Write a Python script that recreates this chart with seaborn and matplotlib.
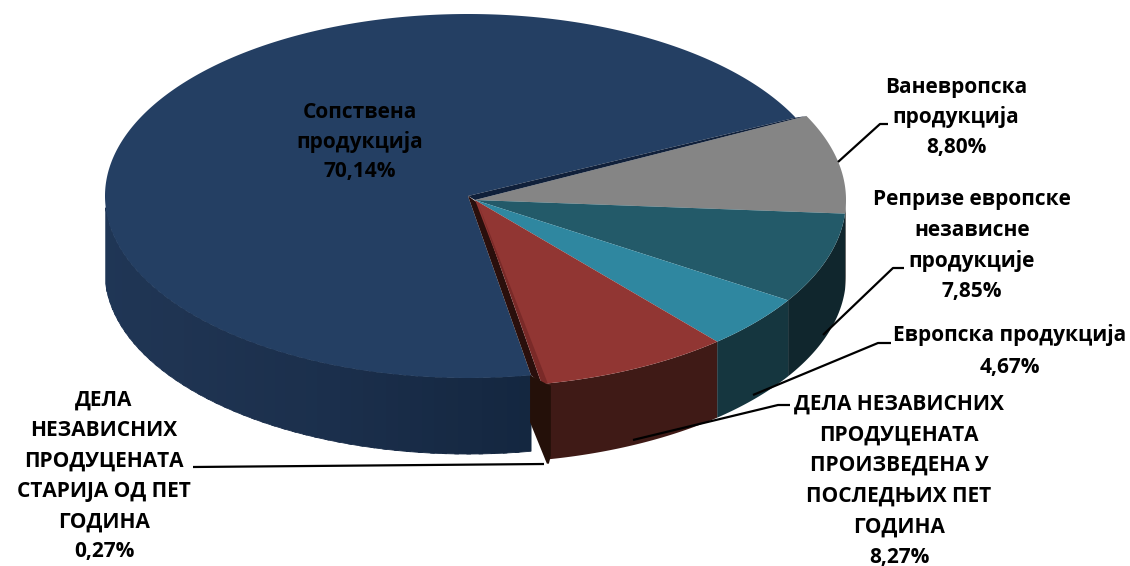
import numpy as np
import matplotlib
matplotlib.use("Agg")
import matplotlib.pyplot as plt
import seaborn as sns

# удели у процентима, редом у смеру казаљке почев од сиве кришке
slices = ["Ваневропска", "Репризе", "Европска", "Дела нова", "Дела стара", "Сопствена"]
shares = [8.80, 7.85, 4.67, 8.27, 0.27, 70.14]
top_colors = ["#858585", "#235a69", "#2f87a0", "#913633", "#7a2a28", "#243f63"]
wall_colors = ["#6a6a6a", "#10262d", "#15363f", "#3f1a16", "#241009", "#1f3452"]

label_blocks = [
    ["Сопствена", "продукција", "70,14%"],
    ["Ваневропска", "продукција", "8,80%"],
    ["Репризе европске", "независне", "продукције", "7,85%"],
    ["Европска продукција", "4,67%"],
    ["ДЕЛА НЕЗАВИСНИХ", "ПРОДУЦЕНАТА", "ПРОИЗВЕДЕНА У", "ПОСЛЕДЊИХ ПЕТ", "ГОДИНА", "8,27%"],
    ["ДЕЛА", "НЕЗАВИСНИХ", "ПРОДУЦЕНАТА", "СТАРИЈА ОД ПЕТ", "ГОДИНА", "0,27%"],
]

sns.set_theme(style="white")
plt.rcParams["font.family"] = ["Open Sans", "DejaVu Sans"]

START = 27.5
DEPTH = 76
BLUE_TRIM = 2.0  # перспектива: плава ивица пада мало ниже на врху
GRAY_TRIM = 0.8
# центар и полуосе: плава кришка је мало одвојена од остатка
geom = {
    "rest": (475, 200, 371, 187),
    "thin": (478, 203, 367, 184),
    "blue": (468, 196, 363, 182),
}


def ell(g, deg):
    a = np.radians(deg)
    return g[0] + g[2] * np.cos(a), g[1] - g[3] * np.sin(a)


fig = plt.figure(figsize=(11.3, 5.66), dpi=100)
ax = fig.add_axes([0, 0, 1, 1])
ax.set_xlim(0, 1130)
ax.set_ylim(566, 0)
ax.axis("off")

# углови кришки из удела
bounds = START - np.cumsum([0] + shares) * 3.6
order = [5, 0, 1, 2, 3, 4]  # плава се црта прва

for i in order:
    g = geom["blue"] if i == 5 else geom["thin"] if i == 4 else geom["rest"]
    a0, a1 = bounds[i], bounds[i + 1]
    if i == 5:
        a1 -= BLUE_TRIM
    if i == 0:
        a0 -= GRAY_TRIM
    t = np.linspace(a0, a1, 400)
    x, y = ell(g, t)

    # спољни зид, само предњи део
    front = t[(np.sin(np.radians(t)) < 0) & (t > -180)]
    if i == 5:
        # блага сенка на плавом зиду, десно тамније
        steps = 50
        cols = sns.blend_palette(["#142740", "#1b2f4c", wall_colors[i], "#1f3656"], steps)
        n = len(front) // steps
        for k in range(steps):
            seg = front[k * n:(k + 1) * n + 2]
            sx, sy = ell(g, seg)
            ax.fill(np.r_[sx, sx[::-1]], np.r_[sy, sy[::-1] + DEPTH],
                    color=cols[k], lw=0.6, zorder=2)
    elif i != 4 and len(front) > 1:
        fx, fy = ell(g, front)
        ax.fill(np.r_[fx, fx[::-1]], np.r_[fy, fy[::-1] + DEPTH],
                color=wall_colors[i], lw=0, zorder=2 + order.index(i))

    # горња површина
    ax.fill(np.r_[g[0], x], np.r_[g[1], y], color=top_colors[i], lw=0,
            zorder=3 + order.index(i))

# тамни рез између плаве и сиве кришке
ux, uy = ell(geom["blue"], bounds[0] - BLUE_TRIM)
vx, vy = ell(geom["rest"], bounds[0] - GRAY_TRIM)
ax.fill([468, ux, vx, 475], [196, uy, vy, 200], color="#10203a", lw=0, zorder=4)

# тамни рез између плаве и уске кришке
bx, by = ell(geom["blue"], bounds[5])
cx, cy = ell(geom["thin"], bounds[5])
ax.fill([468, 478, cx, bx], [196, 203, cy, by], color="#2a0f0c", lw=0, zorder=4)

# зид уске кришке, сужава се ка доњем врху
tx, ty = ell(geom["thin"], bounds[4])
ax.fill([bx - 1, tx, tx + 3, tx + 3, tx + 1, tx - 1, bx - 1],
        [by, ty + 1, ty + 2, ty + 72, ty + 80, ty + 80, by + 47],
        color=wall_colors[4], lw=0, zorder=10)

# водеће линије
leaders = [
    ([838, 880, 888], [162, 124, 124]),
    ([823, 893, 904], [335, 268, 268]),
    ([753, 878, 891], [395, 343, 343]),
    ([633, 778, 790], [440, 405, 405]),
    ([193, 544], [467, 464]),
]
for lx, ly in leaders:
    ax.plot(lx, ly, color="black", lw=1.6, zorder=15, solid_capstyle="butt")

# текст
positions = [(360, 112), (956, 87), (972, 199), (1010, 335), (899, 404), (104, 400)]
line_steps = [30, 30, 31, 32, 30.7, 30.4]
for lines, (px, py), step in zip(label_blocks, positions, line_steps):
    for j, line in enumerate(lines):
        ax.text(px, py + j * step, line, ha="center", va="center", fontsize=15,
                fontweight="bold", color="black", zorder=20)

fig.savefig("out.png", dpi=100, facecolor="white")
